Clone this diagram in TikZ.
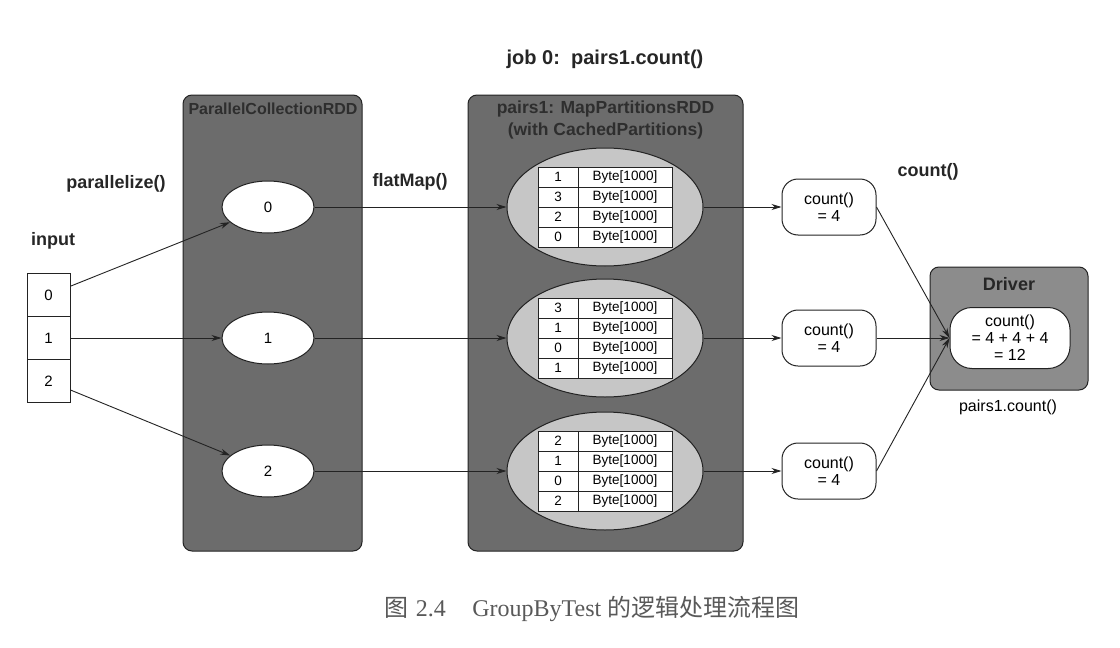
\documentclass[tikz,border=0pt]{standalone}
\usepackage{fontspec}
\setmainfont{Liberation Sans}
\newfontfamily\capserif{Liberation Serif}
\newfontfamily\cjk{Noto Sans CJK SC}
\usetikzlibrary{shapes.geometric,arrows.meta}
\definecolor{rddgray}{RGB}{108,108,108}
\definecolor{ellgray}{RGB}{198,198,198}
\definecolor{drvgray}{RGB}{140,140,140}
\definecolor{linegray}{RGB}{35,35,35}
\begin{document}
\begin{tikzpicture}[x=1pt,y=-1pt,
  lbl/.style={font=\fontsize{18}{21}\selectfont\bfseries, text=black!85},
  title/.style={font=\fontsize{16}{22}\selectfont\bfseries, text=black!82, align=center},
  txt/.style={font=\fontsize{16}{19}\selectfont},
  rddbox/.style={draw=linegray, fill=rddgray, rounded corners=9pt, line width=1pt, inner sep=0pt},
  drvbox/.style={draw=linegray, fill=drvgray, rounded corners=9pt, line width=1pt, inner sep=0pt},
  smell/.style={ellipse, draw=linegray, fill=white, line width=1pt, minimum width=92pt, minimum height=52pt, inner sep=0pt, font=\fontsize{15}{17}\selectfont},
  bigell/.style={ellipse, draw=linegray, fill=ellgray, line width=1pt, minimum width=196pt, minimum height=118pt, inner sep=0pt},
  kcell/.style={rectangle, draw=linegray, fill=white, line width=0.9pt, minimum width=40pt, minimum height=20pt, inner sep=0pt, font=\fontsize{13.5}{15}\selectfont},
  vcell/.style={rectangle, draw=linegray, fill=white, line width=0.9pt, minimum width=94pt, minimum height=20pt, inner sep=0pt, font=\fontsize{13.5}{15}\selectfont},
  incell/.style={rectangle, draw=linegray, fill=white, line width=1pt, minimum width=43pt, minimum height=43pt, inner sep=0pt, font=\fontsize{15}{17}\selectfont},
  cntbox/.style={rectangle, rounded corners=16pt, draw=linegray, fill=white, line width=1pt, minimum width=94pt, minimum height=56pt, inner sep=0pt, align=center, font=\fontsize{16}{17}\selectfont},
  arr/.style={-{Stealth[length=10pt,width=6pt]}, draw=linegray, line width=0.9pt}
]
\useasboundingbox (0,0) rectangle (1120,648);
\fill[white] (0,0) rectangle (1120,648);

% header
\node[lbl, font=\fontsize{20}{24}\selectfont\bfseries] (job) at (605,59) {job 0:\ \ pairs1.count()};

% RDD boxes
\node[rddbox, minimum width=179pt, minimum height=456pt] (rddA) at (272.5,323) {};
\node[title] (rddAt) at (273,109) {ParallelCollectionRDD};
\node[rddbox, minimum width=275pt, minimum height=456pt] (rddB) at (605.5,323) {};
\node[title, font=\fontsize{17.5}{22}\selectfont\bfseries] (rddBt) at (605.5,120) {pairs1: MapPartitionsRDD\\(with CachedPartitions)};

% labels
\node[lbl] (lpar) at (116,184) {parallelize()};
\node[lbl] (linp) at (53,241) {input};
\node[lbl] (lflat) at (410,182) {flatMap()};
\node[lbl] (lcnt) at (928,172) {count()};

% input cells
\node[incell] (in0) at (48.5,295) {0};
\node[incell] (in1) at (48.5,338) {1};
\node[incell] (in2) at (48.5,381) {2};

% small ellipses
\node[smell] (e0) at (268,207) {0};
\node[smell] (e1) at (268,338) {1};
\node[smell] (e2) at (268,471) {2};

% big ellipses with tables
\node[bigell] (b0) at (605,207) {};
\node[bigell] (b1) at (605,338) {};
\node[bigell] (b2) at (605,471) {};
\foreach \t/\yc/\keys in {0/207/{1,3,2,0}, 1/338/{3,1,0,1}, 2/471/{2,1,0,2}}{
  \foreach \k [count=\r from 0] in \keys {
    \node[kcell] (t\t-k\r) at (558,{\yc-30+\r*20}) {\k};
    \node[vcell] (t\t-v\r) at (625,{\yc-30+\r*20}) {Byte[1000]};
  }
}

% count boxes
\node[cntbox] (c0) at (829,207) {count()\\= 4};
\node[cntbox] (c1) at (829,338) {count()\\= 4};
\node[cntbox] (c2) at (829,471) {count()\\= 4};

% driver
\node[drvbox, minimum width=158pt, minimum height=123pt] (drv) at (1009,328.5) {};
\node[lbl] (drvt) at (1009,284) {Driver};
\node[cntbox, minimum width=120pt, minimum height=61pt, rounded corners=22pt] (dc) at (1010,338) {count()\\= 4 + 4 + 4\\= 12};
\node[txt] (drvl) at (1008,407) {pairs1.count()};

% connectors
\draw[arr] (in0) -- (e0);
\draw[arr] (in1) -- (e1);
\draw[arr] (in2) -- (e2);
\draw[arr] (e0) -- (b0);
\draw[arr] (e1) -- (b1);
\draw[arr] (e2) -- (b2);
\draw[arr] (b0) -- (c0);
\draw[arr] (b1) -- (c1);
\draw[arr] (b2) -- (c2);
\draw[arr] (c0.east) -- (dc.west);
\draw[arr] (c1.east) -- (dc.west);
\draw[arr] (c2.east) -- (dc.west);

% caption
\node[font=\fontsize{24}{28}\selectfont, text=black!65] (cap) at (592,609)
  {{\cjk 图}\hspace{0.3em}{\capserif 2.4}\hspace{1.1em}{\capserif GroupByTest}\hspace{0.25em}{\cjk 的逻辑处理流程图}};
\end{tikzpicture}
\end{document}
